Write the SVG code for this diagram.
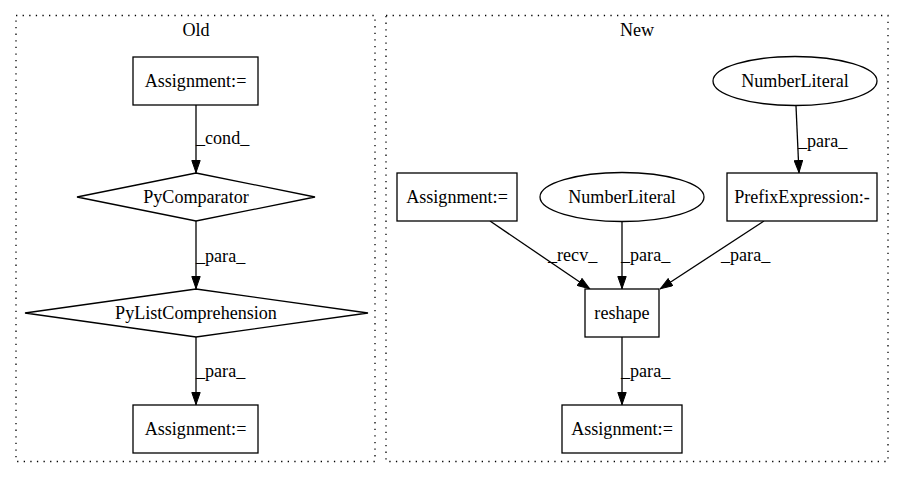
<svg xmlns="http://www.w3.org/2000/svg" width="924" height="480" viewBox="0 0 924 480" font-family="'Liberation Serif', 'Times New Roman', Times, serif">
<style>
text{font-family:'Liberation Serif','Times New Roman',Times,serif;font-size:18.1px;fill:#000}
.c{text-anchor:middle}
.n{fill:#fff;stroke:#000;stroke-width:1.3}
.cl{fill:none;stroke:#000;stroke-width:1.3;stroke-dasharray:1.3,5.3}
.e{fill:none;stroke:#000;stroke-width:1.3}
</style>
<defs>
<marker id="ah" viewBox="0 0 13 9.4" refX="13" refY="4.7" markerWidth="13" markerHeight="9.4" markerUnits="userSpaceOnUse" orient="auto">
<path d="M0.5,0.5L12.5,4.7L0.5,8.9z" fill="#000" stroke="#000" stroke-width="1"/>
</marker>
</defs>
<rect width="924" height="480" fill="#fff"/>
<g id="cluster_old">
<rect class="cl" x="16" y="15.5" width="359" height="446"/>
<text class="c" x="196" y="36">Old</text>
</g>
<g id="cluster_new">
<rect class="cl" x="386" y="15.5" width="502" height="446"/>
<text class="c" x="637" y="36">New</text>
</g>
<g id="edges">
<path class="e" d="M196,105L196,173" marker-end="url(#ah)"/>
<text x="196" y="144">_cond_</text>
<path class="e" d="M196,221L196,289" marker-end="url(#ah)"/>
<text x="196" y="262">_para_</text>
<path class="e" d="M196,337L196,405" marker-end="url(#ah)"/>
<text x="196" y="377">_para_</text>
<path class="e" d="M796,106L799,173" marker-end="url(#ah)"/>
<text x="798" y="147">_para_</text>
<path class="e" d="M490,221L590,289" marker-end="url(#ah)"/>
<text x="548" y="261">_recv_</text>
<path class="e" d="M622,221L622,289" marker-end="url(#ah)"/>
<text x="621" y="261">_para_</text>
<path class="e" d="M764,221L660,289" marker-end="url(#ah)"/>
<text x="721" y="261">_para_</text>
<path class="e" d="M622,337L622,405" marker-end="url(#ah)"/>
<text x="621" y="377">_para_</text>
</g>
<g id="old_assign1">
<rect class="n" x="133" y="57" width="125" height="48"/>
<text class="c" x="195.5" y="87">Assignment:=</text>
</g>
<g id="old_pycomparator">
<polygon class="n" points="196,173 315,197 196,221 77,197"/>
<text class="c" x="196" y="203">PyComparator</text>
</g>
<g id="old_pylistcomp">
<polygon class="n" points="196,289 368,313 196,337 25,313"/>
<text class="c" x="196" y="319">PyListComprehension</text>
</g>
<g id="old_assign2">
<rect class="n" x="133" y="405" width="125" height="48"/>
<text class="c" x="195.5" y="435">Assignment:=</text>
</g>
<g id="new_numlit1">
<ellipse class="n" cx="795" cy="81" rx="82" ry="24.5"/>
<text class="c" x="795" y="87">NumberLiteral</text>
</g>
<g id="new_assign1">
<rect class="n" x="397" y="173" width="120" height="48"/>
<text class="c" x="457" y="203">Assignment:=</text>
</g>
<g id="new_numlit2">
<ellipse class="n" cx="622" cy="197" rx="82" ry="24.5"/>
<text class="c" x="622" y="203">NumberLiteral</text>
</g>
<g id="new_prefix">
<rect class="n" x="727" y="173" width="150" height="48"/>
<text class="c" x="802" y="203">PrefixExpression:-</text>
</g>
<g id="new_reshape">
<rect class="n" x="585" y="289" width="74" height="48"/>
<text class="c" x="622" y="319">reshape</text>
</g>
<g id="new_assign2">
<rect class="n" x="562" y="405" width="120" height="48"/>
<text class="c" x="622" y="435">Assignment:=</text>
</g>
</svg>
